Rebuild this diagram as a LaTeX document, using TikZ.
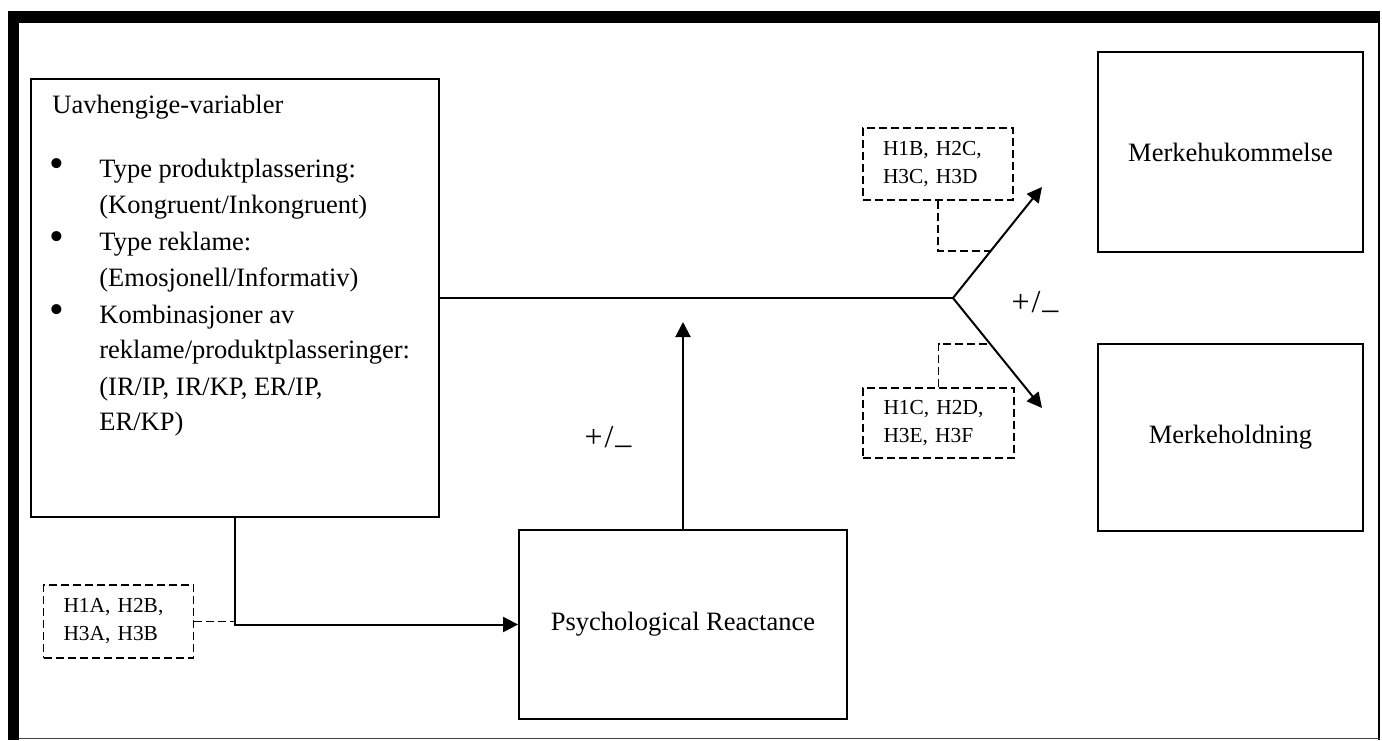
\documentclass[tikz,border=0pt]{standalone}
\usepackage{fontspec}
\setmainfont{Liberation Serif}
\usetikzlibrary{arrows.meta,calc}
\begin{document}
\begin{tikzpicture}[x=0.5pt,y=-0.5pt,
  box/.style={draw,line width=0.9pt,inner sep=0pt,font=\fontsize{13.25}{18}\selectfont},
  hyp/.style={draw,dash pattern=on 4pt off 2pt,line width=0.8pt,inner xsep=10pt,inner ysep=0pt,text width=55pt,align=left,font=\fontsize{10.7}{14}\selectfont},
  ln/.style={anchor=base west,inner sep=0pt,font=\fontsize{13.25}{18}\selectfont},
  bul/.style={anchor=center,inner sep=0pt,font=\fontsize{21}{21}\selectfont},
  arr/.style={line width=1pt,-{Triangle[length=7.5pt,width=7.5pt]}},
  dconn/.style={dash pattern=on 4pt off 2pt,line width=0.8pt},
  sign/.style={font=\fontsize{16}{18}\selectfont,inner sep=0pt}]
\useasboundingbox (0,0) rectangle (1382,740);
% outer frame
\fill (8,11) rectangle (1380,23);
\fill (8,11) rectangle (19,740);
\draw[line width=0.75pt] (1379,23) -- (1379,740);
\draw[line width=0.75pt,black!75] (19,738.5) -- (1380,738.5);
% boxes
\node[box,minimum width=204pt,minimum height=219pt] (iv) at (235,298) {};
\node[ln] (h0) at (52,113) {Uavhengige-variabler};
\node[bul] (b1) at (57,168) {\textbullet};
\node[bul] (b2) at (57,241) {\textbullet};
\node[bul] (b3) at (57,314) {\textbullet};
\node[ln] (l1) at (99,177) {Type produktplassering:};
\node[ln] (l2) at (99,213) {(Kongruent/Inkongruent)};
\node[ln] (l3) at (99,250) {Type reklame:};
\node[ln] (l4) at (99,286) {(Emosjonell/Informativ)};
\node[ln] (l5) at (99,323) {Kombinasjoner av};
\node[ln] (l6) at (99,358) {reklame/produktplasseringer:};
\node[ln] (l7) at (99,395) {(IR/IP, IR/KP, ER/IP,};
\node[ln] (l8) at (99,430) {ER/KP)};
\node[box,minimum width=132.5pt,minimum height=100pt] (mh) at (1230.5,152) {Merkehukommelse};
\node[box,minimum width=132.5pt,minimum height=93.5pt] (mo) at (1230.5,437.5) {Merkeholdning};
\node[box,minimum width=164pt,minimum height=94.5pt] (pr) at (683,624.5) {Psychological Reactance};
\node[hyp,minimum width=75pt,minimum height=36pt] (ub) at (938,164) {H1B, H2C,\\H3C, H3D};
\node[hyp,minimum width=75.5pt,minimum height=35pt] (lb) at (938.5,423) {H1C, H2D,\\H3E, H3F};
\node[hyp,minimum width=74.5pt,minimum height=36.5pt] (lh) at (118.5,621.5) {H1A, H2B,\\H3A, H3B};
% connectors
\coordinate (J) at (953,298);
\coordinate (T1) at (1042,187);
\coordinate (T2) at (1042,408);
\coordinate (M) at (683,322);
\draw[line width=0.8pt] (iv.east) -- (J);
\draw[arr] (J) -- (T1);
\draw[arr] (J) -- (T2);
\draw[arr] (pr.north) -- (M);
\draw[arr] (iv.south) |- (pr.west);
\draw[dconn] (ub.south) |- ($(J)!0.423!(T1)$);
\draw[dconn] (lb.north) |- ($(J)!0.418!(T2)$);
\draw[dconn] (lh.east) -- (lh.east -| iv.south);
% signs
\node[sign] (s1) at (1035,302) {+\kern1pt/\kern1pt\raisebox{0.12em}{\_}};
\node[sign] (s2) at (608,437) {+\kern1pt/\kern1pt\raisebox{0.12em}{\_}};
\end{tikzpicture}
\end{document}
